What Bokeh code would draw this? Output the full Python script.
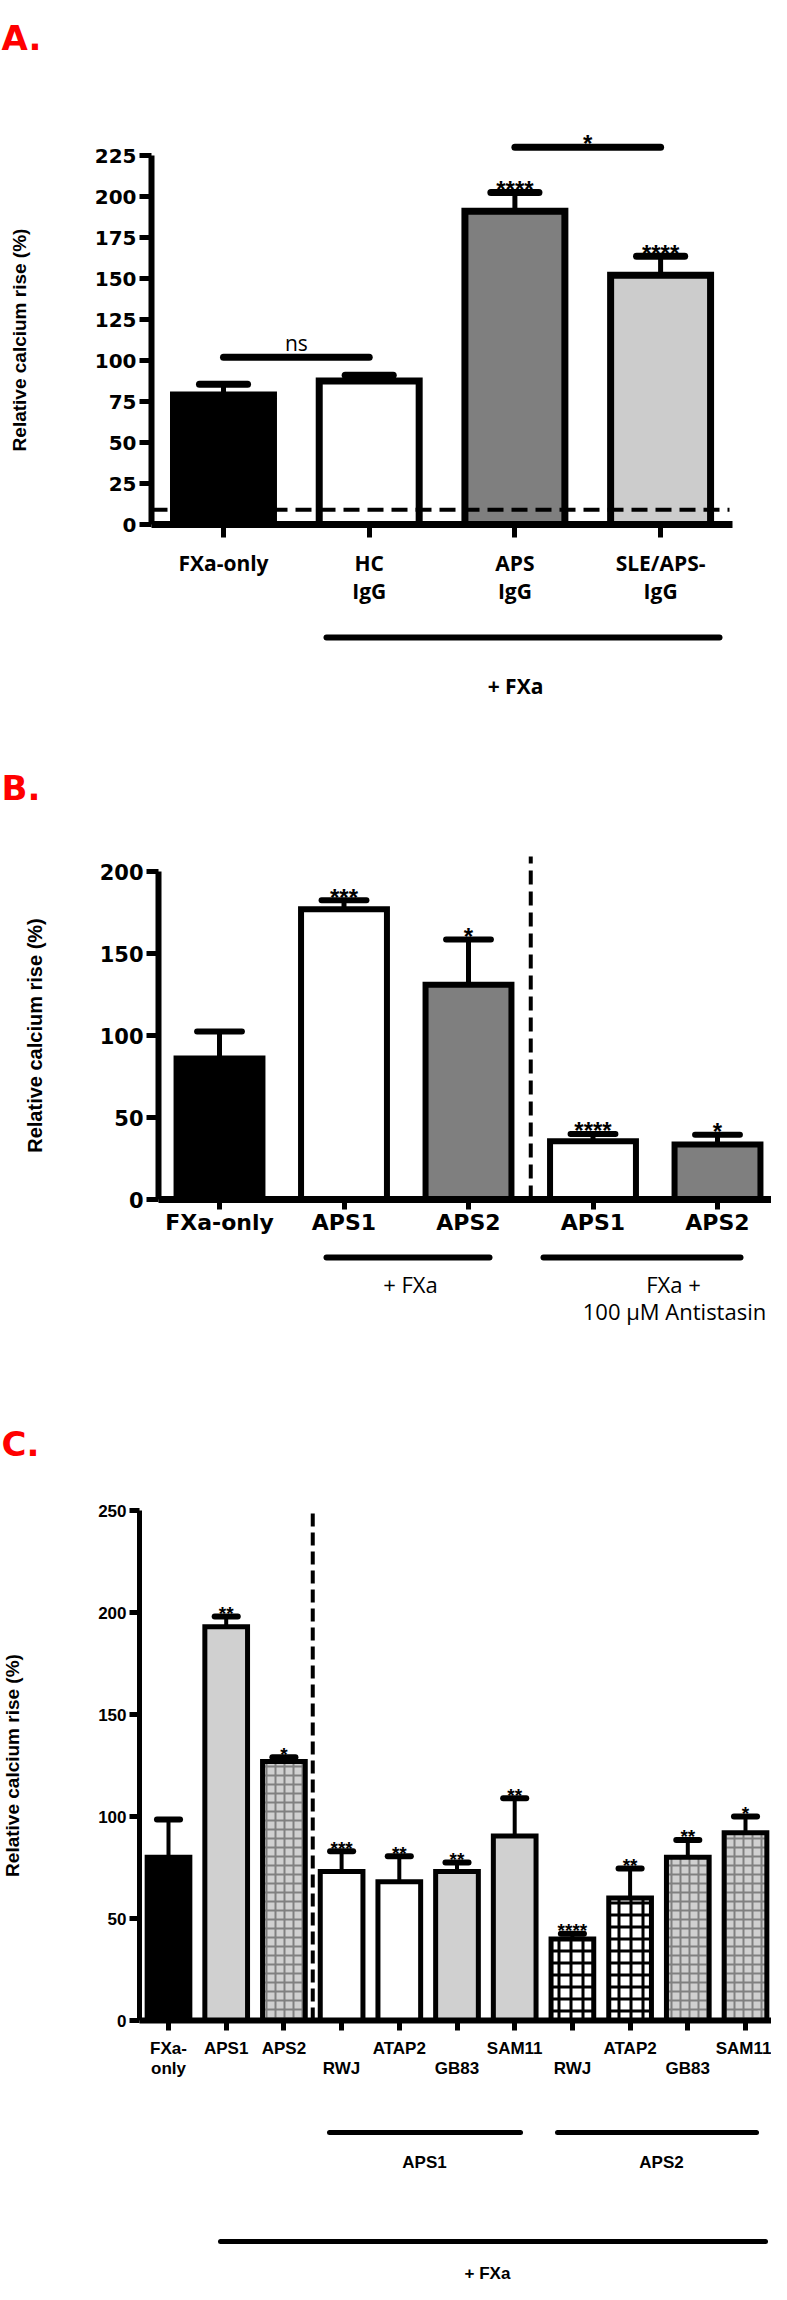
from bokeh.plotting import figure
from bokeh.layouts import column
from bokeh.models import Range1d, FixedTicker, ColumnDataSource
from bokeh.core.properties import value
from bokeh.embed import file_html
from bokeh.resources import INLINE

# ---------------- data ----------------
# Panel A
a_groups = ["FXa-only", "HC\nIgG", "APS\nIgG", "SLE/APS-\nIgG"]
a_means = [79, 87.5, 191, 152]
a_sems = [6.5, 3.5, 11.5, 11.5]
a_stars = ["", "", "****", "****"]
a_cutoff = 9
a_ticks = [0, 25, 50, 75, 100, 125, 150, 175, 200, 225]
a_compare_from = [0, 2]
a_compare_to = [1, 3]
a_compare_height = [102, 230]
a_compare_text = ["ns", "*"]

# Panel B
b_groups = ["FXa-only", "APS1", "APS2", "APS1", "APS2"]
b_means = [86, 177, 131, 35.5, 33.5]
b_sems = [16.5, 5.5, 27.5, 4.5, 6]
b_stars = ["", "***", "*", "****", "*"]
b_ticks = [0, 50, 100, 150, 200]

# Panel C
c_groups = ["FXa-\nonly", "APS1", "APS2", "\nRWJ", "ATAP2", "\nGB83", "SAM11",
            "\nRWJ", "ATAP2", "\nGB83", "SAM11"]
c_means = [80, 193, 127, 73, 68, 73, 90.5, 40, 60, 80, 92]
c_sems = [18.5, 5, 2, 10, 12.5, 4.5, 18.5, 2.5, 14.5, 8.5, 8]
c_stars = ["", "**", "*", "***", "**", "**", "**", "****", "**", "**", "*"]
c_ticks = [0, 50, 100, 150, 200, 250]

# ---------------- styles ----------------
a_fill = ["#000000", "#ffffff", "#7f7f7f", "#cccccc"]
b_fill = ["#000000", "#ffffff", "#7f7f7f", "#ffffff", "#7f7f7f"]
c_fill = ["#000000", "#d0d0d0", "#d0d0d0", "#ffffff", "#ffffff", "#d0d0d0", "#d0d0d0",
          "#ffffff", "#ffffff", "#d0d0d0", "#d0d0d0"]
c_hatch = [" ", " ", "+", " ", " ", " ", " ", "+", "+", "+", "+"]
c_hatch_color = ["#000000", "#000000", "#808080", "#000000", "#000000", "#000000", "#000000",
                 "#000000", "#000000", "#808080", "#808080"]
c_hatch_weight = [1, 1, 2, 1, 1, 1, 1, 3, 3, 2, 2]
c_hatch_scale = [9, 9, 9, 9, 9, 9, 9, 12, 12, 9, 9]

W = 771
LEFT = 8
RED = "#ff0000"


def make_panel(top_px, height, c0, step, zero_px, ppu):
    xr = Range1d((LEFT - c0) / step, (LEFT + W - c0) / step)
    yr = Range1d(-(top_px + height - zero_px) / ppu, (zero_px - top_px) / ppu)
    p = figure(width=W, height=height, x_range=xr, y_range=yr,
               output_backend="svg", toolbar_location=None,
               min_border=0, outline_line_color=None)
    p.min_border_left = 0
    p.min_border_right = 0
    p.min_border_top = 0
    p.min_border_bottom = 0
    p.background_fill_color = "white"
    p.border_fill_color = "white"
    p.grid.visible = False

    def gx(page_x):
        return (page_x - c0) / step

    def gy(page_y):
        return (zero_px - page_y) / ppu

    return p, gx, gy


def style_axes(p, y_at, ticks, x_end, groups, yfont, ysize, ytick_out, ylab_size,
               ylab_standoff, axis_w, xfont, xsize, x_lh, x_standoff, xtick_out):
    ya = p.yaxis[0]
    ya.fixed_location = y_at
    ya.bounds = (ticks[0], ticks[-1])
    ya.ticker = FixedTicker(ticks=ticks)
    ya.axis_line_width = axis_w
    ya.axis_line_color = "black"
    ya.major_tick_line_width = 5
    ya.major_tick_line_color = "black"
    ya.major_tick_out = ytick_out
    ya.major_tick_in = 0
    ya.minor_tick_line_color = None
    ya.major_label_text_font = yfont
    ya.major_label_text_font_style = "bold"
    ya.major_label_text_font_size = f"{ysize}px"
    ya.major_label_text_color = "black"
    ya.major_label_standoff = 3
    ya.axis_label = "Relative calcium rise (%)"
    ya.axis_label_text_font = "Liberation Sans"
    ya.axis_label_text_font_style = "bold"
    ya.axis_label_text_font_size = f"{ylab_size}px"
    ya.axis_label_text_color = "black"
    ya.axis_label_standoff = ylab_standoff

    xa = p.xaxis[0]
    xa.fixed_location = 0
    xa.bounds = (y_at, x_end)
    xa.ticker = FixedTicker(ticks=list(range(len(groups))))
    xa.major_label_overrides = {i: g for i, g in enumerate(groups)}
    xa.axis_line_width = axis_w + 1
    xa.axis_line_color = "black"
    xa.major_tick_line_width = 5
    xa.major_tick_line_color = "black"
    xa.major_tick_out = xtick_out
    xa.major_tick_in = 0
    xa.minor_tick_line_color = None
    xa.major_label_text_font = xfont
    xa.major_label_text_font_style = "bold"
    xa.major_label_text_font_size = f"{xsize}px"
    xa.major_label_text_color = "black"
    xa.major_label_text_line_height = x_lh
    xa.major_label_standoff = x_standoff


def bars(p, means, sems, fills, width, lw, cap_half, cap_w, stem_w, stars, star_font, star_size,
         ppu, hatch=None):
    xs = list(range(len(means)))
    tops = [m + s for m, s in zip(means, sems)]
    data = dict(x=xs, mean=means, top=tops, fill=fills,
                cl=[x - cap_half for x in xs], cr=[x + cap_half for x in xs],
                star=stars, sy=[t + 3.0 / ppu for t in tops])
    if hatch is not None:
        data.update(hatch)
    src = ColumnDataSource(data)
    p.segment(x0="x", y0="mean", x1="x", y1="top", source=src,
              line_color="black", line_width=stem_w)
    p.segment(x0="cl", y0="top", x1="cr", y1="top", source=src,
              line_color="black", line_width=cap_w, line_cap="round")
    kw = {}
    if hatch is not None:
        kw = dict(hatch_pattern="hp", hatch_color="hc", hatch_weight="hw", hatch_scale="hs")
    p.vbar(x="x", top="mean", bottom=0, width=width, source=src,
           fill_color="fill", line_color="black", line_width=lw, line_join="miter", **kw)
    p.text(x="x", y="sy", text="star", source=src, text_align="center",
           text_baseline="alphabetic", text_font=value(star_font),
           text_font_style="bold", text_font_size=f"{star_size}px", text_color="black")


def letter(p, gx, gy, txt, bottom_page):
    p.text(x=[gx(9)], y=[gy(bottom_page)], text=[txt], text_align="left",
           text_baseline="alphabetic", text_font=value("DejaVu Sans"),
           text_font_style="bold", text_font_size="34px", text_color=RED)


def label(p, x, y, txt, font, size, style="normal"):
    p.text(x=[x], y=[y], text=[txt], text_align="center", text_baseline="middle",
           text_font=value(font), text_font_style=style, text_font_size=f"{size}px",
           text_color="black")


def hline(p, x0, x1, y, w):
    p.segment(x0=[x0], y0=[y], x1=[x1], y1=[y], line_color="black", line_width=w,
              line_cap="round")


# ---------------- panel A ----------------
A_PPU = 1.64
pA, ax, ay = make_panel(8, 732, 231, 145.7, 532, A_PPU)
ya_x = ax(159)
style_axes(pA, ya_x, a_ticks, ax(740), a_groups, "DejaVu Sans", 20, 12, 19, 62, 6,
           "Open Sans", 21, 1.0, 11, 13)
bars(pA, a_means, a_sems, a_fill, 0.686, 7, 0.165, 7, 5, a_stars, "Liberation Sans", 24, A_PPU)
pA.segment(x0=[ya_x], y0=[a_cutoff], x1=[ax(737)], y1=[a_cutoff], line_color="black",
           line_width=4, line_dash="16 8")
for i0, i1, h, t in zip(a_compare_from, a_compare_to, a_compare_height, a_compare_text):
    hline(pA, i0, i1, h, 7)
    if t == "ns":
        pA.text(x=[(i0 + i1) / 2], y=[h + 14 / A_PPU], text=[t], text_align="center",
                text_baseline="alphabetic", text_font=value("Open Sans"),
                text_font_size="21px", text_color="black")
    else:
        pA.text(x=[(i0 + i1) / 2], y=[h + 4 / A_PPU], text=[t], text_align="center",
                text_baseline="alphabetic", text_font=value("Liberation Sans"),
                text_font_style="bold", text_font_size="24px", text_color="black")
hline(pA, ax(334), ax(727), ay(645), 6)
label(pA, ax(523), ay(693), "+ FXa", "Open Sans", 21, "bold")
letter(pA, ax, ay, "A.", 45)

# ---------------- panel B ----------------
B_PPU = 1.64
pB, bx, by = make_panel(740, 660, 227, 124.5, 1207, B_PPU)
yb_x = bx(166)
style_axes(pB, yb_x, b_ticks, bx(790), b_groups, "DejaVu Sans", 21, 12, 20, 51, 6,
           "DejaVu Sans", 22, 1.0, 0, 10)
bars(pB, b_means, b_sems, b_fill, 0.69, 6, 0.18, 6, 5, b_stars, "Liberation Sans", 24, B_PPU)
pB.segment(x0=[2.5], y0=[0], x1=[2.5], y1=[by(864)], line_color="black", line_width=4,
           line_dash="14 7")
hline(pB, bx(334), bx(497), by(1265), 6)
hline(pB, bx(551), bx(748), by(1265), 6)
label(pB, bx(418), by(1291), "+ FXa", "Open Sans", 22)
label(pB, bx(681), by(1291), "FXa +", "Open Sans", 22)
label(pB, bx(682), by(1318), "100 \u03bcM Antistasin", "Open Sans", 22)
letter(pB, bx, by, "B.", 795)

# ---------------- panel C ----------------
C_PPU = 2.04
pC, cx, cy = make_panel(1400, 892, 176, 57.7, 2028, C_PPU)
yc_x = cx(147)
style_axes(pC, yc_x, c_ticks, cx(783), c_groups, "Liberation Sans", 17, 10, 19, 72, 5,
           "Liberation Sans", 17, 1.1, 8, 10)
bars(pC, c_means, c_sems, c_fill, 0.74, 5, 0.2, 6, 4, c_stars, "Liberation Sans", 19, C_PPU,
     hatch=dict(hp=c_hatch, hc=c_hatch_color, hw=c_hatch_weight, hs=c_hatch_scale))
pC.segment(x0=[2.5], y0=[0], x1=[2.5], y1=[cy(1517)], line_color="black", line_width=4,
           line_dash="13 6")
hline(pC, cx(337), cx(528), cy(2140), 5)
hline(pC, cx(565), cx(764), cy(2140), 5)
label(pC, cx(432), cy(2170), "APS1", "Liberation Sans", 17, "bold")
label(pC, cx(669), cy(2170), "APS2", "Liberation Sans", 17, "bold")
hline(pC, cx(228), cx(773), cy(2249), 5)
label(pC, cx(495), cy(2281), "+ FXa", "Liberation Sans", 17, "bold")
letter(pC, cx, cy, "C.", 1451)

layout = column(pA, pB, pC, spacing=0)
open("out.html", "w").write(file_html(layout, INLINE))
